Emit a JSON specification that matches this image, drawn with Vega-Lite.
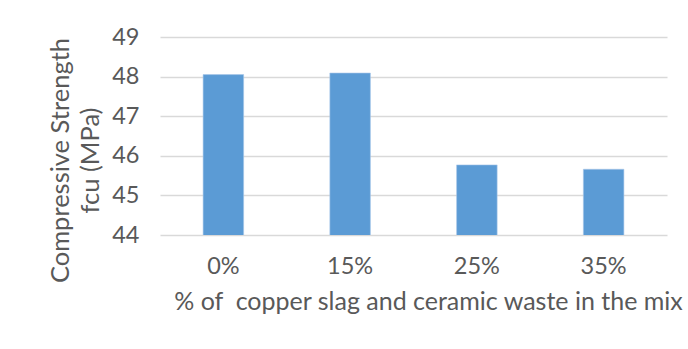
{
  "$schema": "https://vega.github.io/schema/vega-lite/v6.json",
  "autosize": {"type": "none"},
  "width": 507,
  "height": 198,
  "padding": {"left": 160, "top": 37, "right": 21, "bottom": 114},
  "background": "white",
  "data": {"values": [
    {"mix": "0%", "strength": 48.05},
    {"mix": "15%", "strength": 48.09},
    {"mix": "25%", "strength": 45.77},
    {"mix": "35%", "strength": 45.66}
  ]},
  "mark": {"type": "bar", "color": "#5B9BD5", "stroke": "#A9C8EA", "strokeWidth": 0.6, "clip": true},
  "encoding": {
    "x": {
      "field": "mix", "type": "nominal", "sort": null,
      "scale": {"paddingInner": 0.68, "paddingOuter": 0.34},
      "axis": {
        "title": "% of\u00a0 copper slag and ceramic waste in the mix",
        "labelAngle": 0, "domain": false, "ticks": false,
        "labelFont": "Lato", "labelFontSize": 23.5, "labelColor": "#595959", "labelPadding": 19,
        "titleFont": "Lato", "titleFontSize": 25, "titleFontWeight": "normal", "titleColor": "#595959",
        "titleX": 268, "titleY": 54, "titleBaseline": "top", "titleAlign": "center"
      }
    },
    "y": {
      "field": "strength", "type": "quantitative",
      "scale": {"domain": [44, 49], "zero": false, "nice": false},
      "axis": {
        "title": ["Compressive Strength", "fcu (MPa)"],
        "values": [44, 45, 46, 47, 48, 49],
        "domain": false, "ticks": false,
        "grid": true, "gridColor": "#D9D9D9", "gridWidth": 1.3,
        "labelFont": "Lato", "labelFontSize": 23.5, "labelColor": "#595959", "labelPadding": 21,
        "titleFont": "Lato", "titleFontSize": 25.5, "titleFontWeight": "normal", "titleColor": "#595959",
        "titleAngle": 270, "titleX": -100, "titleY": 123, "titleAlign": "center", "titleBaseline": "middle",
        "titleLineHeight": 30
      }
    }
  },
  "config": {"view": {"stroke": null}}
}
